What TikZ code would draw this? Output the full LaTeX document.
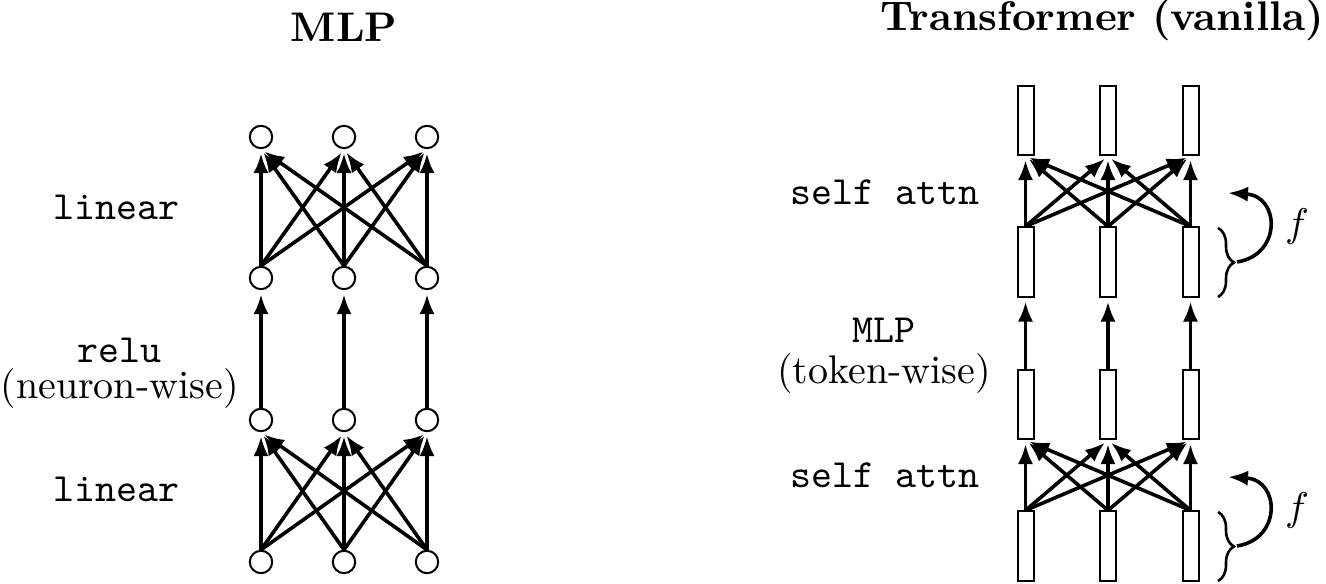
\documentclass[tikz,border=0pt]{standalone}
\usetikzlibrary{arrows.meta,decorations.pathreplacing}
\tikzset{
  neuron/.style={circle,draw,line width=0.5pt,minimum size=5.6pt,inner sep=0pt},
  tok/.style={rectangle,draw,line width=0.5pt,minimum width=4pt,minimum height=17.3pt,inner sep=0pt},
  conn/.style={line width=0.9pt,-{Latex[length=5pt,width=3.8pt]},shorten >=1pt},
  lbl/.style={anchor=base,inner sep=0pt},
  ttl/.style={anchor=base,inner sep=0pt,font=\fontsize{10.35}{12}\selectfont\bfseries},
  bracestyle/.style={line width=0.65pt,decorate,decoration={brace,amplitude=4pt}},
}
\begin{document}
\begin{tikzpicture}[x=0.25pt,y=-0.25pt]
\useasboundingbox (0,0) rectangle (1326,584);
% titles
\node[ttl] (tmlp) at (344,42) {MLP};
\node[ttl,anchor=base east] (ttr) at (1325,31) {Transformer (vanilla)};
% MLP neurons
\foreach \r/\y in {1/137,2/278,3/420,4/562}{
  \foreach \c/\x in {1/261,2/344,3/427}{
    \node[neuron] (m\r\c) at (\x,\y) {};
  }
}
% Transformer tokens
\foreach \r/\y in {1/120.5,2/262,3/404.5,4/546}{
  \foreach \c/\x in {1/1025.5,2/1108,3/1190.5}{
    \node[tok] (t\r\c) at (\x,\y) {};
  }
}
% fully connected layers
\foreach \s/\d in {2/1,4/3}{
  \foreach \i in {1,2,3}{
    \foreach \j in {1,2,3}{
      \draw[conn] (m\s\i.north) -- (m\d\j.south);
    }
  }
}
\foreach \s/\d in {2/1,4/3}{
  \foreach \i in {1,2,3}{
    \foreach \j in {1,2,3}{
      \draw[conn] (t\s\i.north) -- (t\d\j.south);
    }
  }
}
% elementwise
\foreach \i in {1,2,3}{
  \draw[conn] (m3\i.north) -- (m2\i.south);
  \draw[conn] (t3\i.north) -- (t2\i.south);
}
% labels MLP
\node[lbl] (l1) at (116.5,220) {\ttfamily linear};
\node[lbl] (l2) at (119.5,363) {\ttfamily relu};
\node[lbl] (l3) at (119.5,399) {(neuron-wise)};
\node[lbl] (l4) at (116.5,502) {\ttfamily linear};
% labels transformer
\node[lbl] (s1) at (884.5,205) {\ttfamily self attn};
\node[lbl] (s2) at (884,343) {\ttfamily MLP};
\node[lbl] (s3) at (884,384) {(token-wise)};
\node[lbl] (s4) at (884.5,488) {\ttfamily self attn};
% braces and residual arrows
\coordinate (b1t) at (1218,228);
\coordinate (b1b) at (1218,297);
\coordinate (b1m) at (1237,262);
\coordinate (a1) at (1228,193);
\draw[bracestyle] (b1t) -- (b1b);
\draw[line width=0.9pt,-{Latex[length=5pt,width=3.8pt]}] (b1m) .. controls (1282,255) and (1280,196) .. (a1);
\node (f1) at (1297,227) {$f$};
\coordinate (b2t) at (1218,512);
\coordinate (b2b) at (1218,581);
\coordinate (b2m) at (1237,546);
\coordinate (a2) at (1228,477);
\draw[bracestyle] (b2t) -- (b2b);
\draw[line width=0.9pt,-{Latex[length=5pt,width=3.8pt]}] (b2m) .. controls (1282,539) and (1280,480) .. (a2);
\node (f2) at (1297,511) {$f$};
\end{tikzpicture}
\end{document}
